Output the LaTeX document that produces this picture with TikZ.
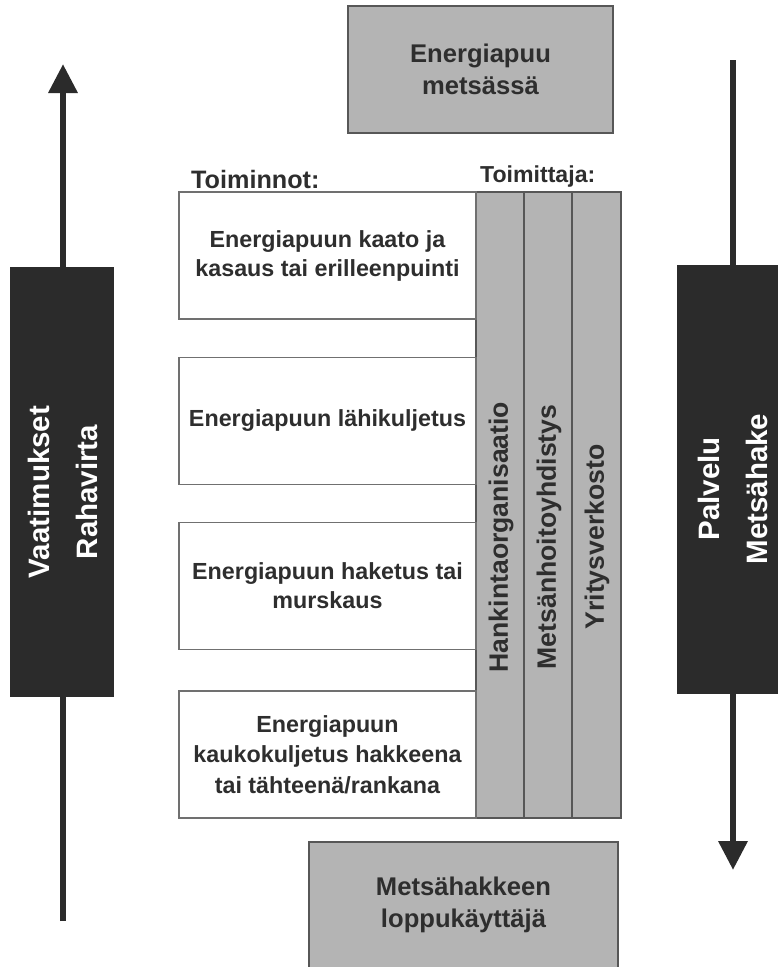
\documentclass[tikz,border=0pt]{standalone}
\usepackage{fontspec}
\setmainfont{Liberation Sans}
\usetikzlibrary{arrows.meta}
\definecolor{dither}{HTML}{B4B4B4}
\definecolor{ink}{HTML}{2E2E2E}
\definecolor{blk}{HTML}{2B2B2B}
\definecolor{edge}{HTML}{575757}
\begin{document}
\begin{tikzpicture}[x=1pt,y=-1pt,
  graybox/.style={draw=edge, line width=1.3pt, fill=dither, inner sep=0pt, text=ink, align=center,
    font=\bfseries\fontsize{25.6}{32}\selectfont},
  whitebox/.style={draw=edge!85, line width=1.1pt, fill=white, minimum width=297pt, minimum height=127pt,
    inner sep=0pt, text=ink, align=center, font=\bfseries\fontsize{23.3}{29}\selectfont},
  colbox/.style={draw=edge, line width=1.1pt, fill=dither, inner sep=0pt, minimum height=626pt},
  collabel/.style={rotate=90, text=ink, inner sep=0pt, font=\bfseries\fontsize{26.6}{30}\selectfont},
  blackbox/.style={fill=blk, draw=blk, inner sep=0pt, text=white, align=center},
  blacklabel/.style={rotate=90, text=white, inner sep=0pt, align=center, font=\bfseries\fontsize{29.5}{47.5}\selectfont},
  heading/.style={anchor=base west, inner sep=0pt, text=ink, font=\bfseries},
  flow/.style={draw=blk, line width=6.5pt, -{Triangle[width=28pt,length=29pt]}}
]
\useasboundingbox (0,0) rectangle (777,967);
\fill[white] (0,0) rectangle (777,967);

% flow arrows (behind the black boxes)
\coordinate (lbot) at (63,921);
\coordinate (ltop) at (63,64);
\coordinate (rtop) at (733,60);
\coordinate (rbot) at (733,870);
\draw[flow] (lbot) -- (ltop);
\draw[flow] (rtop) -- (rbot);

% black side boxes
\node[blackbox, minimum width=103pt, minimum height=429pt] (left) at (61.5,481.5) {};
\node[blacklabel] (leftlab) at (63,492) {Vaatimukset\\Rahavirta};
\node[blackbox, minimum width=101pt, minimum height=428pt] (right) at (728,479) {};
\node[blacklabel] (rightlab) at (733,489) {Palvelu\\Metsähake};

% top and bottom boxes
\node[graybox, minimum width=265pt, minimum height=127pt] (top) at (480.5,69.5) {Energiapuu\\metsässä};
\node[graybox, minimum width=309pt, minimum height=126pt] (bottom) at (463.5,905) {Metsähakkeen\\loppukäyttäjä};

% headings
\node[heading, font=\bfseries\fontsize{25.2}{30}\selectfont] (toim) at (191,188) {Toiminnot:};
\node[heading, font=\bfseries\fontsize{23.1}{28}\selectfont] (toimit) at (480,182) {Toimittaja:};

% supplier columns
\node[colbox, minimum width=48pt] (c1) at (500,505) {};
\node[colbox, minimum width=48pt] (c2) at (548,505) {};
\node[colbox, minimum width=49pt] (c3) at (596.5,505) {};
\node[collabel] (c1lab) at (501,537) {Hankintaorganisaatio};
\node[collabel] (c2lab) at (549,537) {Metsänhoitoyhdistys};
\node[collabel] (c3lab) at (597,537) {Yritysverkosto};

% activity boxes
\node[whitebox] (a1) at (327.5,255.5) {Energiapuun kaato ja\\kasaus tai erilleenpuinti};
\node[whitebox] (a2) at (327.5,421) {Energiapuun lähikuljetus};
\node[whitebox] (a3) at (327.5,586) {Energiapuun haketus tai\\murskaus};
\node[whitebox, font=\bfseries\fontsize{23.3}{30.5}\selectfont] (a4) at (327.5,754.5) {Energiapuun\\kaukokuljetus hakkeena\\tai tähteenä/rankana};
\end{tikzpicture}
\end{document}
